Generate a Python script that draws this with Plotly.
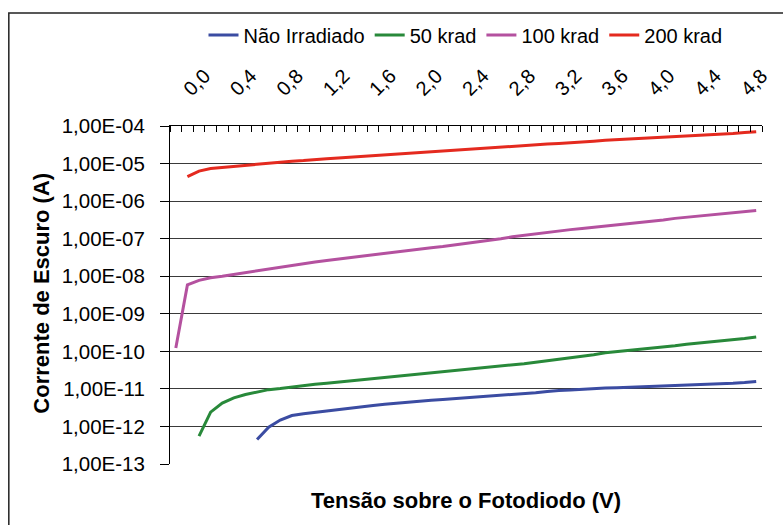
import plotly.graph_objects as go

# Tensão aplicada (V), categorias do eixo
tensao = [round(0.1 * k, 1) for k in range(51)]

# Corrente de escuro (A) por dose; None = sem medida
nao_irradiado = [None] * 7 + [
    4.47e-13, 9.55e-13, 1.48e-12, 1.95e-12, 2.19e-12, 2.40e-12, 2.63e-12, 2.88e-12,
    3.09e-12, 3.39e-12, 3.63e-12, 3.89e-12, 4.17e-12, 4.47e-12, 4.68e-12, 5.01e-12,
    5.25e-12, 5.50e-12, 5.82e-12, 6.03e-12, 6.31e-12, 6.61e-12, 6.92e-12, 7.41e-12,
    7.94e-12, 8.51e-12, 9.12e-12, 9.33e-12, 9.77e-12, 1.00e-11, 1.05e-11, 1.07e-11,
    1.10e-11, 1.12e-11, 1.15e-11, 1.17e-11, 1.20e-11, 1.23e-11, 1.26e-11, 1.29e-11,
    1.35e-11, 1.41e-11, 1.48e-11, 1.58e-11,
]
krad_50 = [None] * 2 + [
    5.50e-13, 2.40e-12, 4.17e-12, 5.75e-12, 7.08e-12, 8.32e-12, 9.55e-12, 1.02e-11,
    1.12e-11, 1.20e-11, 1.32e-11, 1.41e-11, 1.51e-11, 1.62e-11, 1.74e-11, 1.86e-11,
    2.04e-11, 2.19e-11, 2.34e-11, 2.51e-11, 2.69e-11, 2.88e-11, 3.09e-11, 3.31e-11,
    3.55e-11, 3.80e-11, 4.07e-11, 4.37e-11, 4.68e-11, 5.13e-11, 5.62e-11, 6.03e-11,
    6.61e-11, 7.41e-11, 8.13e-11, 9.12e-11, 9.77e-11, 1.05e-10, 1.12e-10, 1.20e-10,
    1.32e-10, 1.41e-10, 1.55e-10, 1.66e-10, 1.74e-10, 1.86e-10, 2.04e-10, 2.19e-10,
    2.40e-10,
]
krad_100 = [
    1.23e-10, 5.89e-09, 7.76e-09, 9.12e-09, 1.00e-08, 1.12e-08, 1.26e-08, 1.41e-08,
    1.58e-08, 1.74e-08, 1.95e-08, 2.14e-08, 2.40e-08, 2.63e-08, 2.88e-08, 3.16e-08,
    3.47e-08, 3.80e-08, 4.17e-08, 4.47e-08, 4.90e-08, 5.25e-08, 5.75e-08, 6.17e-08,
    6.76e-08, 7.33e-08, 8.13e-08, 9.12e-08, 1.00e-07, 1.12e-07, 1.23e-07, 1.35e-07,
    1.48e-07, 1.62e-07, 1.74e-07, 1.86e-07, 2.00e-07, 2.14e-07, 2.29e-07, 2.45e-07,
    2.69e-07, 2.95e-07, 3.16e-07, 3.47e-07, 3.72e-07, 4.07e-07, 4.27e-07, 4.57e-07,
    4.90e-07, 5.25e-07, 5.62e-07,
]
krad_200 = [None] + [
    4.47e-06, 6.31e-06, 7.41e-06, 7.94e-06, 8.51e-06, 9.12e-06, 9.55e-06, 1.02e-05,
    1.07e-05, 1.15e-05, 1.20e-05, 1.29e-05, 1.35e-05, 1.41e-05, 1.48e-05, 1.58e-05,
    1.66e-05, 1.74e-05, 1.78e-05, 1.86e-05, 1.95e-05, 2.04e-05, 2.14e-05, 2.26e-05,
    2.37e-05, 2.51e-05, 2.63e-05, 2.79e-05, 2.95e-05, 3.05e-05, 3.16e-05, 3.31e-05,
    3.43e-05, 3.55e-05, 3.72e-05, 3.94e-05, 4.17e-05, 4.32e-05, 4.47e-05, 4.68e-05,
    4.84e-05, 5.01e-05, 5.19e-05, 5.37e-05, 5.56e-05, 5.75e-05, 6.03e-05, 6.31e-05,
    6.68e-05, 7.08e-05,
]

nomes = ["Não Irradiado", "50 krad", "100 krad", "200 krad"]
series = [nao_irradiado, krad_50, krad_100, krad_200]
cores = ["#3B4CA2", "#28893A", "#B4519F", "#E42A1F"]

# Rótulos dos eixos
x_rotulos = [f"{v:.1f}".replace(".", ",") for v in tensao[::4] if v <= 4.8]
x_ticks = [v for v in tensao[::4] if v <= 4.8]
y_expoentes = list(range(-13, -3))
y_ticks = [10.0 ** e for e in y_expoentes]
y_rotulos = [f"1,00E-{abs(e):02d}" for e in y_expoentes]

FONTE = "Arial, Liberation Sans, sans-serif"

fig = go.Figure()
for nome, valores, cor in zip(nomes, series, cores):
    fig.add_trace(go.Scatter(
        x=tensao, y=valores, name=nome, mode="lines",
        line=dict(color=cor, width=3), connectgaps=False,
    ))

fig.update_layout(
    width=783, height=525,
    margin=dict(l=170, r=18, t=126, b=61),
    paper_bgcolor="white", plot_bgcolor="white",
    font=dict(family=FONTE, size=20, color="black"),
    showlegend=True,
    legend=dict(
        orientation="h", x=(467 - 170) / 595, y=(464 - 35) / 338,
        xanchor="center", yanchor="middle",
        font=dict(size=20), itemwidth=30, tracegroupgap=0,
        bgcolor="rgba(0,0,0,0)",
    ),
    xaxis=dict(
        range=[-0.05, 5.05], side="top",
        tickmode="array", tickvals=x_ticks, ticktext=x_rotulos,
        tickangle=-45, ticks="", ticklabelstandoff=17, ticklabelshift=9,
        tickfont=dict(size=20),
        showline=True, linecolor="black", linewidth=1,
        showgrid=False, zeroline=False,
        minor=dict(ticks="inside", tick0=-0.05, dtick=0.1, ticklen=6,
                   tickcolor="black", tickwidth=1, showgrid=False),
    ),
    yaxis=dict(
        type="log", range=[-13, -4],
        tickmode="array", tickvals=y_ticks, ticktext=y_rotulos,
        ticks="outside", ticklen=9, tickcolor="black",
        ticklabelstandoff=11, tickfont=dict(size=20.5),
        showline=True, linecolor="black", linewidth=1,
        showgrid=True, gridcolor="#3a3a3a", gridwidth=1,
        zeroline=False,
    ),
    annotations=[
        dict(text="<b>Corrente de Escuro (A)</b>", xref="paper", yref="paper",
             x=(40 - 170) / 595, y=(464 - 293) / 338, textangle=-90,
             showarrow=False, font=dict(size=22), xanchor="center", yanchor="middle"),
        dict(text="<b>Tensão sobre o Fotodiodo (V)</b>", xref="paper", yref="paper",
             x=(467 - 170) / 595, y=(464 - 500) / 338,
             showarrow=False, font=dict(size=22), xanchor="center", yanchor="middle"),
    ],
    shapes=[
        dict(type="rect", xref="paper", yref="paper",
             x0=(8 - 170) / 595, x1=(800 - 170) / 595,
             y0=(464 - 540) / 338, y1=(464 - 13) / 338,
             line=dict(color="#222222", width=1.5), layer="below"),
    ],
)

fig.write_html("out.html")
